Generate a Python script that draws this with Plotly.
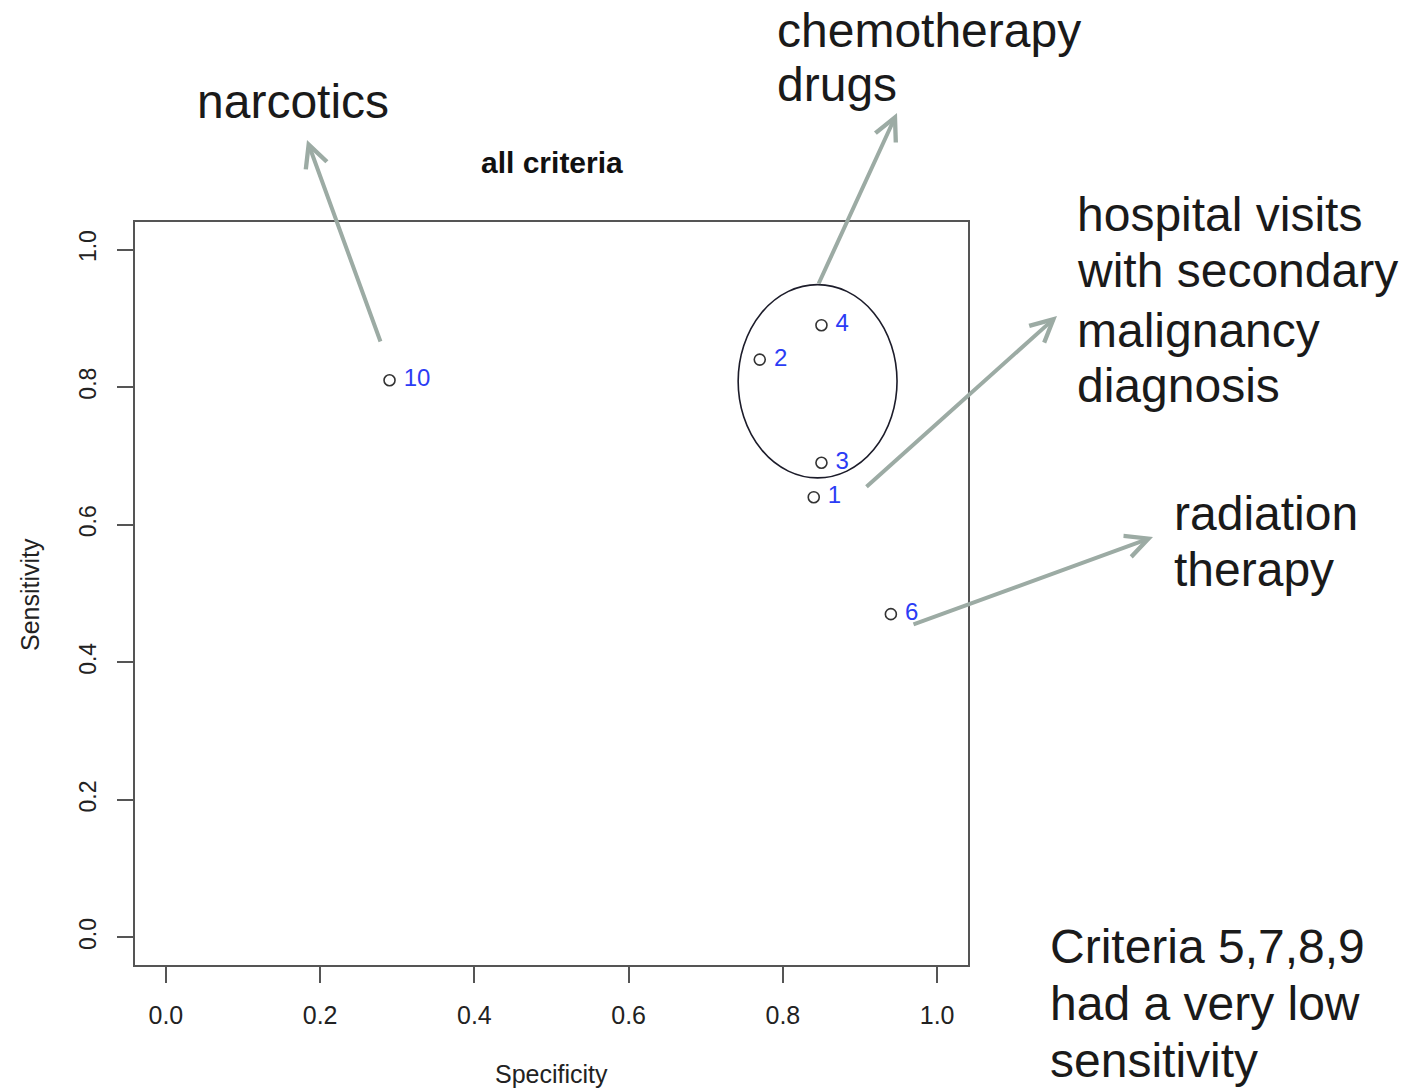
import plotly.graph_objects as go

# ---- data ----
criteria = ["1", "2", "3", "4", "6", "10"]
specificity = [0.84, 0.77, 0.85, 0.85, 0.94, 0.29]
sensitivity = [0.64, 0.84, 0.69, 0.89, 0.47, 0.81]

x_ticks = [0.0, 0.2, 0.4, 0.6, 0.8, 1.0]
y_ticks = [0.0, 0.2, 0.4, 0.6, 0.8, 1.0]

# ---- layout geometry (reference pixel coordinates) ----
W, H = 1418, 1089
L, R, T, B = 135, 968, 222, 965  # plot box in reference pixels


def px(xp):
    return (xp - L) / (R - L)


def py(yp):
    return (B - yp) / (B - T)


FONT = "Liberation Sans, Arial, Helvetica, sans-serif"
ARROW = "#9caba4"

fig = go.Figure()
fig.add_trace(go.Scatter(
    x=specificity, y=sensitivity, mode="markers",
    marker=dict(symbol="circle-open", size=11, color="#333333", line=dict(width=1.6)),
    cliponaxis=False, showlegend=False, hoverinfo="skip",
))
# point labels (invisible wider marker gives the R-like gap)
fig.add_trace(go.Scatter(
    x=specificity, y=sensitivity, mode="markers+text",
    text=criteria, textposition="middle right",
    textfont=dict(family=FONT, size=24, color="#2b3cf5"),
    marker=dict(size=21, color="rgba(0,0,0,0)"),
    cliponaxis=False, showlegend=False, hoverinfo="skip",
))

# ellipse around criteria 2,3,4
fig.add_shape(type="circle", xref="x", yref="y",
              x0=0.742, x1=0.948, y0=0.668, y1=0.949,
              line=dict(color="#1c1c2a", width=1.6))

annotations = []

# big labels (one per line): text, left x, vertical centre (reference px)
label_lines = [
    ("chemotherapy", 775, 30), ("drugs", 775, 84),
    ("narcotics", 195, 101),
    ("hospital visits", 1075, 214), ("with secondary", 1075, 270),
    ("malignancy", 1075, 330), ("diagnosis", 1075, 385),
    ("radiation", 1172, 513), ("therapy", 1172, 569),
    ("Criteria 5,7,8,9", 1048, 946), ("had a very low", 1048, 1003),
    ("sensitivity", 1048, 1060),
]
for txt, xl, yc in label_lines:
    annotations.append(dict(text=txt, xref="paper", yref="paper",
                            x=px(xl), y=py(yc), xanchor="left", yanchor="middle",
                            showarrow=False, font=dict(family=FONT, size=48, color="#1a1a1a")))

# arrows: (head x, head y, tail x, tail y) in reference pixels
arrows = [(307, 140, 381, 343), (897, 113, 818, 285),
          (1057, 316, 865, 488), (1153, 537, 912, 625)]
for hx, hy, tx, ty in arrows:
    annotations.append(dict(text="", xref="paper", yref="paper", x=px(hx), y=py(hy),
                            ax=tx - hx, ay=ty - hy, axref="pixel", ayref="pixel",
                            showarrow=True, arrowhead=5, arrowsize=1.1, arrowwidth=4,
                            arrowcolor=ARROW))

# title and axis titles
annotations.append(dict(text="<b>all criteria</b>", xref="paper", yref="paper",
                        x=0.5, y=py(162), xanchor="center", yanchor="middle", showarrow=False,
                        font=dict(family=FONT, size=30, color="#111111")))
annotations.append(dict(text="Specificity", xref="paper", yref="paper",
                        x=0.5, y=py(1074), xanchor="center", yanchor="middle", showarrow=False,
                        font=dict(family=FONT, size=25, color="#222222")))
annotations.append(dict(text="Sensitivity", xref="paper", yref="paper",
                        x=px(30), y=py(595), xanchor="center", yanchor="middle", showarrow=False,
                        textangle=-90, font=dict(family=FONT, size=25, color="#222222")))

axis_common = dict(showgrid=False, zeroline=False, showline=True, mirror=True,
                   linecolor="#555555", linewidth=1.6, ticks="outside", ticklen=16,
                   tickwidth=1.5, tickcolor="#555555")

fig.update_layout(
    width=W, height=H, autosize=False,
    margin=dict(l=L, r=W - R, t=T, b=H - B, pad=0),
    paper_bgcolor="white", plot_bgcolor="white",
    xaxis=dict(range=[-0.04, 1.04], tickvals=x_ticks,
               ticktext=[f"{v:.1f}" for v in x_ticks], ticklabelstandoff=11,
               tickfont=dict(family=FONT, size=25, color="#222222"), **axis_common),
    yaxis=dict(range=[-0.04, 1.04], tickvals=y_ticks,
               ticktext=[f"{v:.1f}" for v in y_ticks], tickangle=-90,
               ticklabelstandoff=12,
               tickfont=dict(family=FONT, size=23, color="#222222"), **axis_common),
    annotations=annotations,
)

fig.write_html(
    "out.html",
    config={"displayModeBar": False},
    post_script="document.body.style.margin='0px';document.body.style.overflow='hidden';",
)
